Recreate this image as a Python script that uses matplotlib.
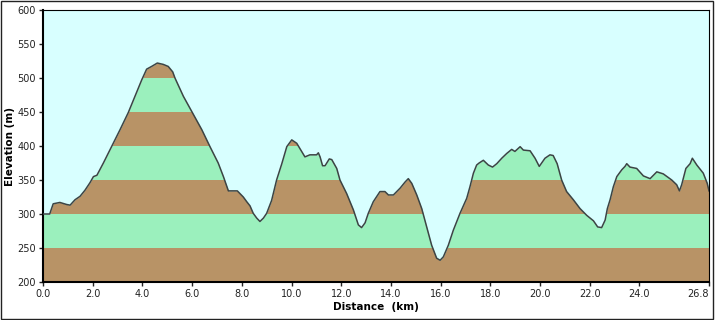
import matplotlib
matplotlib.use("Agg")
import matplotlib.pyplot as plt
from matplotlib.patches import Rectangle

# profile (km, m)
dist = [0.0, 0.27, 0.41, 0.68, 0.95, 1.09, 1.29, 1.49, 1.69, 1.89, 2.03, 2.17, 2.43, 2.76,
        3.10, 3.43, 3.70, 3.97, 4.17, 4.37, 4.60, 4.84, 5.04, 5.22, 5.31, 5.65, 5.98, 6.39,
        6.72, 7.05, 7.26, 7.46, 7.82, 8.06, 8.20, 8.33, 8.46, 8.60, 8.73, 8.87, 9.00, 9.20,
        9.40, 9.61, 9.81, 10.01, 10.21, 10.41, 10.54, 10.74, 11.01, 11.08, 11.15, 11.25,
        11.35, 11.52, 11.62, 11.82, 11.95, 12.22, 12.49, 12.69, 12.82, 12.96, 13.09, 13.29,
        13.56, 13.76, 13.90, 14.10, 14.37, 14.57, 14.70, 14.84, 15.04, 15.24, 15.44, 15.64,
        15.84, 15.98, 16.11, 16.31, 16.51, 16.78, 17.05, 17.18, 17.32, 17.45, 17.55, 17.72,
        17.92, 18.09, 18.26, 18.46, 18.66, 18.86, 18.99, 19.20, 19.33, 19.60, 19.80, 19.97,
        20.20, 20.40, 20.53, 20.69, 20.87, 21.07, 21.34, 21.61, 21.88, 22.15, 22.32, 22.48,
        22.62, 22.71, 22.82, 22.95, 23.09, 23.29, 23.42, 23.49, 23.62, 23.89, 24.16, 24.43,
        24.70, 24.96, 25.30, 25.50, 25.61, 25.70, 25.87, 26.04, 26.13, 26.31, 26.57, 26.73,
        26.80]
elev = [300, 300, 315, 317, 314, 313, 321, 326, 335, 346, 355, 357, 375, 399,
        424, 449, 473, 497, 513, 517, 522, 520, 517, 509, 500, 473, 451, 424,
        399, 375, 355, 334, 334, 325, 318, 312, 301, 294, 289, 294, 301, 320,
        350, 374, 399, 409, 404, 392, 384, 387, 387, 390, 384, 371,
        371, 381, 380, 367, 350, 330, 306, 284, 280, 287, 301, 318,
        333, 333, 328, 328, 338, 347, 352, 345, 328, 308, 281, 254,
        235, 232, 237, 254, 276, 301, 323, 340, 360, 372, 375, 379,
        372, 369, 374, 382, 389, 395, 392, 399, 394, 393, 382, 370,
        382, 387, 386, 374, 350, 333, 321, 308, 298, 290, 281, 280,
        291, 308, 321, 340, 355, 365, 370, 374, 369, 367, 356, 352,
        362, 359, 350, 343, 334, 343, 367, 374, 382, 372, 360, 345,
        334]

band_edges = [200, 250, 300, 350, 400, 450, 500, 550]
xticks = [0, 2, 4, 6, 8, 10, 12, 14, 16, 18, 20, 22, 24, 26.8]
yticks = [200, 250, 300, 350, 400, 450, 500, 550, 600]

SKY = "#d8ffff"
BROWN = "#b89366"
GREEN = "#9bf0bd"

fig = plt.figure(figsize=(7.15, 3.2), dpi=100)
ax = fig.add_axes([43 / 715, 1 - 282 / 320, 666 / 715, 272 / 320])
ax.set_facecolor(SKY)

for i in range(len(band_edges) - 1):
    ax.axhspan(band_edges[i], band_edges[i + 1],
               color=BROWN if i % 2 == 0 else GREEN, lw=0, zorder=1)

ax.fill_between(dist, elev, 600, color=SKY, lw=0, zorder=2)
ax.plot(dist, elev, color="#3c4444", lw=1.1, zorder=3)

ax.set_xlim(0, 26.8)
ax.set_ylim(200, 600)
ax.set_xticks(xticks)
ax.set_xticklabels(["%.1f" % t for t in xticks])
ax.get_xticklabels()[-1].set_horizontalalignment("right")
ax.set_yticks(yticks)
ax.tick_params(direction="out", length=3, width=1, labelsize=7, colors="#222222", pad=2)

for s in ["left", "bottom"]:
    ax.spines[s].set_linewidth(1.5)
for s in ["top", "right"]:
    ax.spines[s].set_linewidth(0.8)

ax.set_xlabel("Distance  (km)", fontsize=7.5, fontweight="bold", labelpad=2)
ax.set_ylabel("Elevation (m)", fontsize=7.5, fontweight="bold", labelpad=2)

fig.add_artist(Rectangle((0.002, 0.004), 0.995, 0.992, transform=fig.transFigure,
                         fill=False, edgecolor="#222222", lw=1))

fig.savefig("out.png", dpi=100)
